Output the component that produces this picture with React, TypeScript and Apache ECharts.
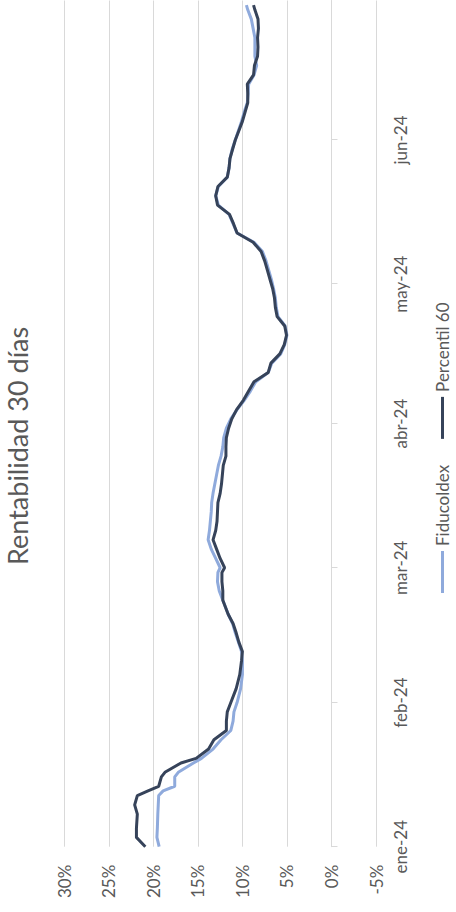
import React, { useEffect, useRef } from 'react';
import * as echarts from 'echarts';

const dates = [
  '2024-01-01', '2024-01-03', '2024-01-05', '2024-01-08', '2024-01-10', '2024-01-12', '2024-01-13', '2024-01-14',
  '2024-01-16', '2024-01-17', '2024-01-19', '2024-01-20', '2024-01-22', '2024-01-24', '2024-01-26', '2024-01-28', '2024-01-30',
  '2024-02-01', '2024-02-04', '2024-02-07', '2024-02-10', '2024-02-12', '2024-02-14', '2024-02-16', '2024-02-18',
  '2024-02-20', '2024-02-23', '2024-02-25', '2024-02-27', '2024-02-29',
  '2024-03-01', '2024-03-03', '2024-03-05', '2024-03-07', '2024-03-09', '2024-03-11', '2024-03-13', '2024-03-15',
  '2024-03-17', '2024-03-19', '2024-03-21', '2024-03-23', '2024-03-25', '2024-03-27', '2024-03-29', '2024-03-31',
  '2024-04-02', '2024-04-04', '2024-04-06', '2024-04-08', '2024-04-10', '2024-04-12', '2024-04-14', '2024-04-16',
  '2024-04-18', '2024-04-20', '2024-04-22', '2024-04-24', '2024-04-26', '2024-04-28', '2024-04-30',
  '2024-05-02', '2024-05-04', '2024-05-06', '2024-05-08', '2024-05-10', '2024-05-12', '2024-05-14', '2024-05-16',
  '2024-05-18', '2024-05-20', '2024-05-22', '2024-05-24', '2024-05-26', '2024-05-28', '2024-05-30',
  '2024-06-01', '2024-06-03', '2024-06-05', '2024-06-07', '2024-06-09', '2024-06-11', '2024-06-13', '2024-06-15',
  '2024-06-17', '2024-06-19', '2024-06-21', '2024-06-23', '2024-06-25', '2024-06-27', '2024-06-29', '2024-06-30',
];

const fiducoldex = [
  19.35, 19.6, 19.55, 19.5, 19.45, 19.4, 18.9, 17.6, 17.6, 17.2, 15.5, 14.6, 13.3, 12.4, 11.3, 11.05, 10.95,
  10.6, 10.2, 10.0, 10.0, 10.1, 10.45, 10.8, 11.1, 11.6, 12.2, 12.6, 12.8, 12.75,
  12.5, 13.0, 13.5, 13.85, 13.7, 13.6, 13.5, 13.45, 13.3, 13.1, 12.9, 12.7, 12.4, 12.2, 12.1, 11.8,
  11.3, 10.6, 9.8, 9.1, 8.5, 7.1, 6.7, 5.7, 5.25, 5.0, 5.2, 6.0, 6.2, 6.3, 6.5,
  6.75, 7.05, 7.35, 7.75, 8.7, 10.6, 11.05, 11.5, 12.7, 13.0, 12.7, 11.7, 11.5, 11.4, 11.15,
  10.8, 10.45, 10.1, 9.8, 9.45, 9.35, 9.3, 8.7, 8.4, 8.6, 8.6, 8.6, 8.8, 9.0, 9.4, 9.55,
];

const percentil60 = [
  20.9, 21.9, 21.9, 21.8, 22.1, 21.8, 20.6, 19.4, 19.1, 18.7, 16.9, 15.2, 13.8, 13.2, 11.8, 11.8, 11.7,
  11.3, 10.7, 10.3, 10.1, 10.0, 10.4, 10.7, 11.05, 11.6, 12.2, 12.2, 12.3, 12.3,
  12.0, 12.5, 12.9, 13.3, 13.0, 12.85, 12.8, 12.75, 12.5, 12.35, 12.25, 12.15, 11.85, 11.85, 11.8, 11.55,
  11.2, 10.65, 9.9, 9.3, 8.7, 7.1, 6.8, 5.8, 5.3, 5.05, 5.25, 6.1, 6.3, 6.4, 6.6,
  6.9, 7.2, 7.5, 7.9, 8.8, 10.6, 11.0, 11.45, 12.8, 13.0, 12.75, 11.7, 11.5, 11.4, 11.1,
  10.8, 10.4, 10.0, 9.7, 9.4, 9.4, 9.45, 8.75, 8.65, 8.3, 8.25, 8.3, 8.2, 8.25, 8.6, 8.75,
];

const seriesNames = ['Fiducoldex', 'Percentil 60'];
const monthLabels = ['ene', 'feb', 'mar', 'abr', 'may', 'jun', 'jul', 'ago', 'sep', 'oct', 'nov', 'dic'];
const axisStart = '2024-01-01';
const axisEnd = '2024-07-01';
const titleText = 'Rentabilidad 30 días';

const toTime = (s: string) => {
  const [y, m, d] = s.split('-').map(Number);
  return Date.UTC(y, m - 1, d);
};

const FONT = 'Lato, "Open Sans", sans-serif';
const GRAY = '#595959';

export default function App() {
  const ref = useRef<HTMLDivElement>(null);
  useEffect(() => {
    document.body.style.margin = '0';
    const chart = echarts.init(ref.current as HTMLDivElement, undefined, { renderer: 'svg', width: 912, height: 456 });
    const pairs = (vals: number[]) => dates.map((d, i) => [toTime(d), vals[i]]);
    chart.setOption({
      animation: false,
      useUTC: true,
      backgroundColor: '#ffffff',
      textStyle: { fontFamily: FONT },
      title: {
        text: titleText,
        left: 342,
        top: -1,
        textStyle: { fontFamily: FONT, fontSize: 27, fontWeight: 'normal', color: GRAY },
      },
      legend: {
        left: 314,
        top: 429,
        itemGap: 26,
        itemWidth: 42,
        itemHeight: 3,
        icon: 'rect',
        textStyle: { fontFamily: FONT, fontSize: 17, color: GRAY },
        data: seriesNames,
      },
      grid: {
        left: 65.3,
        right: 0.5,
        top: 64.3,
        bottom: 80,
        containLabel: false,
        outerBoundsMode: 'none',
      },
      xAxis: {
        type: 'time',
        min: toTime(axisStart),
        max: toTime(axisEnd),
        minInterval: 28 * 86400000,
        maxInterval: 31 * 86400000,
        axisLine: { onZero: true, lineStyle: { color: '#D9D9D9', width: 1 } },
        axisTick: { show: true, length: 6, lineStyle: { color: '#D9D9D9' } },
        splitLine: { show: false },
        axisLabel: {
          margin: 16,
          showMaxLabel: false,
          showMinLabel: true,
          fontFamily: FONT,
          fontSize: 17,
          color: GRAY,
          formatter: (val: number) => {
            const d = new Date(val);
            return monthLabels[d.getUTCMonth()] + '-' + String(d.getUTCFullYear()).slice(2);
          },
        },
      },
      yAxis: {
        type: 'value',
        min: -5,
        max: 30,
        interval: 5,
        axisLine: { show: false },
        axisTick: { show: false },
        splitLine: { show: true, lineStyle: { color: '#D9D9D9', width: 1 } },
        axisLabel: { margin: 18, fontFamily: FONT, fontSize: 17, color: GRAY, formatter: '{value}%' },
      },
      series: [
        {
          name: seriesNames[0],
          type: 'line',
          data: pairs(fiducoldex),
          symbol: 'none',
          lineStyle: { color: '#8FAADC', width: 3 },
          itemStyle: { color: '#8FAADC' },
        },
        {
          name: seriesNames[1],
          type: 'line',
          data: pairs(percentil60),
          symbol: 'none',
          lineStyle: { color: '#36435A', width: 3 },
          itemStyle: { color: '#36435A' },
        },
      ],
    });
    return () => chart.dispose();
  }, []);
  return (
    <div style={{ position: 'fixed', left: 0, top: 0, width: 456, height: 912, overflow: 'hidden', background: '#fff' }}>
      <div
        ref={ref}
        style={{
          position: 'absolute',
          left: 0,
          top: 0,
          width: 912,
          height: 456,
          transformOrigin: '0 0',
          transform: 'translate(0px, 912px) rotate(-90deg)',
        }}
      />
    </div>
  );
}
